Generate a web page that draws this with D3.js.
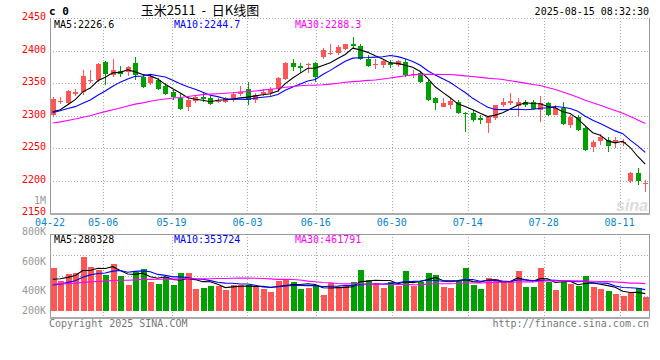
<!DOCTYPE html>
<html><head><meta charset="utf-8">
<script src="https://cdn.jsdelivr.net/npm/d3@7"></script>
<style>
body{margin:0;background:#fff}
svg{display:block}
text{font-family:"DejaVu Sans Mono",monospace}
</style>
</head><body>
<svg id="chart" width="660" height="360"></svg>
<script>
// ---------------- DATA ----------------
const dates = ["04-22","04-23","04-24","04-25","04-28","04-29","04-30",
 "05-06","05-07","05-08","05-09","05-12","05-13","05-14","05-15","05-16","05-19","05-20","05-21","05-22","05-23","05-26","05-27","05-28","05-29","05-30",
 "06-03","06-04","06-05","06-06","06-09","06-10","06-11","06-12","06-13","06-16","06-17","06-18","06-19","06-20","06-23","06-24","06-25","06-26","06-27","06-30",
 "07-01","07-02","07-03","07-04","07-07","07-08","07-09","07-10","07-11","07-14","07-15","07-16","07-17","07-18","07-21","07-22","07-23","07-24","07-25","07-28","07-29","07-30","07-31",
 "08-01","08-04","08-05","08-06","08-07","08-08","08-11","08-12","08-13","08-14","08-15"];
const open  = [2301,2322,2319,2334,2336,2354,2355,2383,2363,2369,2368,2382,2360,2351,2355,2346,2337,2328,2314,2323,2329,2328,2322,2322,2324,2334,2341,2324,2334,2335,2341,2356,2382,2377,2378,2382,2391,2395,2397,2403,2411,2407,2388,2378,2378,2382,2378,2383,2363,2366,2352,2327,2314,2317,2322,2305,2305,2297,2289,2297,2317,2319,2315,2322,2322,2309,2319,2301,2312,2286,2298,2282,2252,2262,2263,2258,2258,2199,2212,2195];
const high  = [2329,2329,2340,2341,2370,2370,2381,2385,2387,2377,2377,2390,2364,2363,2358,2350,2340,2335,2329,2332,2335,2331,2327,2329,2337,2346,2352,2335,2341,2344,2360,2383,2388,2381,2381,2383,2404,2411,2409,2411,2422,2410,2393,2388,2388,2386,2386,2388,2371,2367,2355,2329,2328,2327,2324,2306,2309,2302,2299,2317,2327,2335,2327,2324,2324,2330,2322,2316,2322,2301,2301,2284,2263,2272,2268,2268,2265,2214,2219,2201];
const low   = [2298,2318,2316,2331,2332,2350,2352,2347,2360,2360,2362,2355,2343,2347,2339,2332,2324,2309,2307,2320,2322,2316,2319,2319,2321,2331,2316,2319,2330,2329,2337,2355,2369,2366,2366,2352,2388,2393,2394,2402,2405,2386,2375,2372,2373,2373,2375,2360,2358,2350,2323,2309,2313,2311,2303,2275,2291,2288,2274,2293,2314,2317,2299,2314,2309,2291,2299,2301,2286,2281,2276,2246,2245,2255,2245,2250,2253,2196,2194,2183];
const close = [2326,2323,2338,2336,2361,2355,2379,2365,2370,2365,2375,2363,2344,2360,2341,2334,2329,2311,2324,2329,2326,2318,2323,2327,2334,2336,2324,2332,2336,2341,2358,2381,2375,2373,2379,2359,2401,2396,2406,2410,2407,2388,2377,2379,2385,2378,2384,2363,2364,2352,2324,2320,2320,2323,2305,2304,2294,2293,2298,2316,2322,2323,2322,2317,2311,2320,2301,2312,2287,2298,2278,2247,2260,2268,2254,2263,2259,2212,2199,2196];
const volume = [710,492,607,618,891,717,667,590,771,574,426,645,689,481,443,553,426,618,618,361,382,415,415,344,426,426,426,399,356,317,492,520,481,361,382,426,262,454,389,410,471,672,508,464,382,471,410,656,410,471,628,590,399,382,492,710,426,361,546,525,492,492,656,399,399,710,481,344,471,443,415,579,399,361,328,279,246,300,372,225].map(v => v * 1000);
// sessions before 04-22 (only used to start the moving averages)
const histClose  = [2272,2275,2270,2278,2282,2280,2276,2283,2286,2281,2279,2284,2288,2285,2282,2287,2284,2280,2283,2285,2296,2302,2308,2310,2304,2306,2300,2297,2301];
const histVolume = [430,470,455,440,480,460,445,425,470,450,465,440,455,430,460,445,450,470,440,450,340,320,350,310,340,450,490,470,480].map(v => v * 1000);

const priceTicks = [2450,2400,2350,2300,2250,2200,2150];
const volTicks   = [1000000,800000,600000,400000,200000];
const volTickText = ["1M","800K","600K","400K","200K"];
const dateTicks  = ["04-22","05-06","05-19","06-03","06-16","06-30","07-14","07-28","08-11"];
const maPeriods  = [5,10,30];
const priceLegend = ["2226.6","2244.7","2288.3"];
const volLegend   = ["280328","353724","461791"];
const titleText = "玉米2511  -  日K线图";
const stampText = "2025-08-15 08:32:30";

// ---------------- LAYOUT ----------------
const L = 50, R = 649;
const pTop = 18.3, pBot = 213.3;
const vTop = 234.3, vBase = 311, vBot = 317.7;
const RED = "#ff5555", GREEN = "#00a000";
const maColors = ["#000000","#0000ff","#ff00ff"];
const legendX = [54,174,295];

const svg = d3.select("#chart");
const n = dates.length;

const x = d3.scaleBand().domain(d3.range(n)).range([49, 649]);
const cx = i => x(i) + x.bandwidth() / 2;
const xg = d3.scaleLinear().domain([0, n - 1]).range([50, 650]);
const y = d3.scaleLinear().domain([2150, 2450]).range([pBot, pTop]);
const yv = d3.scaleLinear().domain([0, 1258000]).range([vBase, vTop]);
const yvLab = d3.scaleLinear().domain([200000,400000,600000,800000,1000000]).range([310.7,290.7,261.7,231,200.7]);

function movingAvg(hist, vals, p) {
  const all = hist.concat(vals);
  const off = hist.length;
  return vals.map((_, i) => d3.mean(all.slice(off + i - p + 1, off + i + 1)));
}

// ---------------- GRID ----------------
const grid = svg.append("g").attr("stroke", "#aaa").attr("stroke-dasharray", "1,2").attr("shape-rendering", "crispEdges");
priceTicks.filter(p => p > 2150).forEach(p => {
  grid.append("line").attr("x1", L).attr("x2", R).attr("y1", Math.round(y(p)) + 0.5).attr("y2", Math.round(y(p)) + 0.5);
});
[255, 275.5, 296].forEach(v => {
  grid.append("line").attr("x1", L).attr("x2", R).attr("y1", Math.round(v) + 0.5).attr("y2", Math.round(v) + 0.5);
});
dateTicks.slice(1).forEach(d => {
  const gx = Math.round(xg(dates.indexOf(d))) + 0.5;
  grid.append("line").attr("x1", gx).attr("x2", gx).attr("y1", pTop).attr("y2", pBot);
  grid.append("line").attr("x1", gx).attr("x2", gx).attr("y1", vTop).attr("y2", vBot);
});

// borders
const bd = svg.append("g").attr("stroke", "#999").attr("fill", "none").attr("shape-rendering", "crispEdges");
bd.append("line").attr("x1", L + 0.5).attr("x2", L + 0.5).attr("y1", pTop).attr("y2", pBot);
bd.append("line").attr("x1", R + 0.5).attr("x2", R + 0.5).attr("y1", pTop).attr("y2", pBot);
bd.append("line").attr("x1", L).attr("x2", R + 1).attr("y1", 213.5).attr("y2", 213.5).attr("stroke-width", 2).attr("stroke", "#aaa");
bd.append("rect").attr("x", L + 0.5).attr("y", vTop).attr("width", R - L).attr("height", vBot - vTop);
bd.append("line").attr("x1", L).attr("x2", R + 1).attr("y1", vBot + 0.5).attr("y2", vBot + 0.5).attr("stroke-width", 2).attr("stroke", "#aaa");

// watermark
svg.append("text").attr("x", 648).attr("y", 211).attr("text-anchor", "end")
  .attr("font-style", "italic").attr("font-weight", "bold")
  .attr("font-size", 16).attr("fill", "#dcdcdc").style("font-family", "Liberation Sans, sans-serif").text("sina");

// ---------------- CANDLES ----------------
const cg = svg.append("g").attr("shape-rendering", "crispEdges");
d3.range(n).forEach(i => {
  const up = close[i] >= open[i];
  const col = up ? RED : GREEN;
  const xc = Math.round(cx(i)) + 0.5;
  cg.append("line").attr("x1", xc).attr("x2", xc)
    .attr("y1", y(high[i])).attr("y2", y(low[i])).attr("stroke", col);
  const top = y(Math.max(open[i], close[i]));
  const bh = Math.max(1, y(Math.min(open[i], close[i])) - top);
  cg.append("rect").attr("x", xc - 2.5).attr("y", top).attr("width", 5).attr("height", bh).attr("fill", col);
});

// volume bars
const vg = svg.append("g").attr("shape-rendering", "crispEdges");
vg.selectAll("rect").data(volume).join("rect")
  .attr("x", (d, i) => Math.round(cx(i)) - 2.5)
  .attr("width", 6)
  .attr("y", d => yv(d))
  .attr("height", d => vBase - yv(d))
  .attr("fill", (d, i) => close[i] >= open[i] ? RED : GREEN);

// ---------------- MOVING AVERAGES ----------------
const line = d3.line().x((d, i) => cx(i));
maPeriods.forEach((p, k) => {
  const ma = movingAvg(histClose, close, p);
  svg.append("path").attr("d", line.y(d => y(d))(ma))
    .attr("fill", "none").attr("stroke", maColors[k]).attr("stroke-width", 1.1);
});
maPeriods.forEach((p, k) => {
  const ma = movingAvg(histVolume, volume, p);
  svg.append("path").attr("d", line.y(d => yv(d))(ma))
    .attr("fill", "none").attr("stroke", maColors[k]).attr("stroke-width", 1.1);
});

// ---------------- TEXT ----------------
const fs = 10;
svg.append("g").selectAll("text").data(priceTicks).join("text")
  .attr("x", 46).attr("y", d => y(d) + 2).attr("text-anchor", "end")
  .attr("font-size", fs).attr("fill", "#ff0000").text(d => d);
svg.append("g").selectAll("text").data(volTicks).join("text")
  .attr("x", 46).attr("y", d => yvLab(d) + 3.5).attr("text-anchor", "end")
  .attr("font-size", fs).attr("fill", "#999").text((d, i) => volTickText[i]);
svg.append("g").selectAll("text").data(dateTicks).join("text")
  .attr("x", d => xg(dates.indexOf(d))).attr("y", 225.5).attr("text-anchor", "middle")
  .attr("font-size", fs).attr("fill", "#0a84d0").text(d => d);
maPeriods.forEach((p, k) => {
  svg.append("text").attr("x", legendX[k]).attr("y", 27.5).attr("font-size", fs)
    .attr("fill", maColors[k]).text("MA" + p + ":" + priceLegend[k]);
  svg.append("text").attr("x", legendX[k]).attr("y", 242.5).attr("font-size", fs)
    .attr("fill", maColors[k]).text("MA" + p + ":" + volLegend[k]);
});
svg.append("text").attr("x", 49).attr("y", 15).attr("font-size", 11).attr("font-weight", "bold").attr("fill", "#000").text("c 0");
svg.append("text").attr("x", 200).attr("y", 15).attr("text-anchor", "middle").attr("font-size", 13)
  .style("font-family", "'Noto Sans CJK SC', sans-serif").style("white-space", "pre").attr("fill", "#000").text(titleText);
svg.append("text").attr("x", 649).attr("y", 15).attr("text-anchor", "end").attr("font-size", fs).attr("fill", "#000").text(stampText);
svg.append("text").attr("x", 49).attr("y", 327).attr("font-size", fs).attr("fill", "#777").text("Copyright 2025 SINA.COM");
svg.append("text").attr("x", 649).attr("y", 327).attr("text-anchor", "end").attr("font-size", fs).attr("fill", "#777").text("http://finance.sina.com.cn");
</script>
</body></html>
